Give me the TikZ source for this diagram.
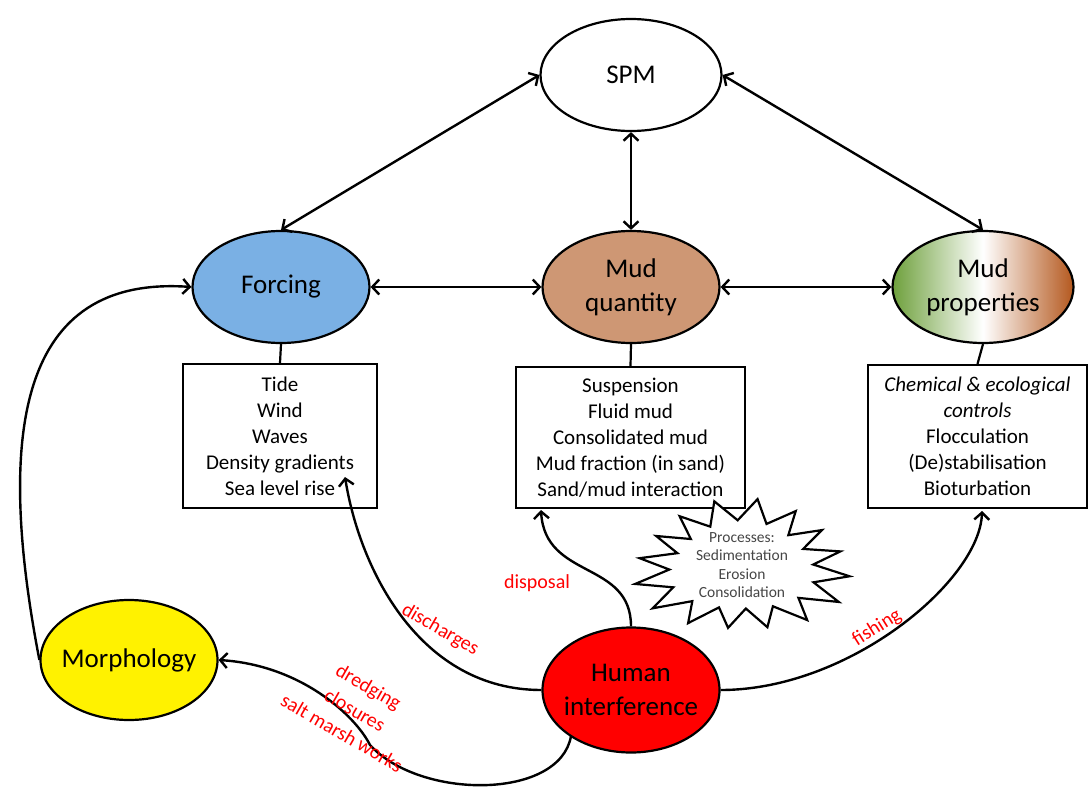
\documentclass[tikz,border=0pt]{standalone}
\usepackage{fontspec}
\setmainfont{Carlito}
\usetikzlibrary{shapes.geometric,arrows.meta}
\definecolor{forceblue}{RGB}{122,176,228}
\definecolor{mudbrown}{RGB}{206,151,116}
\definecolor{propgreen}{RGB}{110,160,60}
\definecolor{propbrown}{RGB}{180,88,30}
\definecolor{procgray}{RGB}{70,70,70}
\tikzset{
  blob/.style={ellipse,draw,line width=2.2pt,minimum width=177pt,minimum height=112pt,
    inner sep=0pt,align=center,font=\fontsize{27}{34}\selectfont},
  listbox/.style={rectangle,draw,line width=2.2pt,align=center,
    font=\fontsize{21}{26}\selectfont},
  link/.style={line width=2.4pt,{Straight Barb[length=7pt,width=15pt]}-{Straight Barb[length=7pt,width=15pt]}},
  feed/.style={line width=2.4pt,-{Straight Barb[length=7pt,width=15pt]}},
  stem/.style={line width=2.2pt},
  act/.style={text=red,font=\fontsize{20}{25}\selectfont},
}
\begin{document}
\begin{tikzpicture}[x=1pt,y=-1pt]
  \useasboundingbox (0,0) rectangle (1089,790);
  % ellipses
  \node[blob,minimum width=181pt,minimum height=112pt] (spm) at (631,75) {SPM};
  \node[blob,fill=forceblue] (forcing) at (281,287) {Forcing};
  \node[blob,fill=mudbrown] (mudq) at (631,287) {Mud\\quantity};
  \node[blob,left color=propgreen,right color=propbrown,middle color=white,minimum width=181pt] (mudp) at (983,287) {Mud\\properties};
  \node[blob,fill=yellow,minimum height=120pt,inner xsep=-12pt] (morph) at (129,660) {Morphology};
  \node[blob,fill=red,minimum height=125pt,inner xsep=-14pt] (human) at (631,690) {Human\\interference};
  % boxes
  \node[listbox,minimum width=194pt,minimum height=144pt] (fbox) at (280,436)
    {Tide\\Wind\\Waves\\Density gradients\\Sea level rise};
  \node[listbox,minimum width=229pt,minimum height=141pt] (qbox) at (630.5,437.5)
    {Suspension\\Fluid mud\\Consolidated mud\\Mud fraction (in sand)\\Sand/mud interaction};
  \node[listbox,minimum width=219pt,minimum height=143pt] (pbox) at (977.5,436.5)
    {\textit{Chemical \& ecological}\\\textit{controls}\\Flocculation\\(De)stabilisation\\Bioturbation};
  % processes burst
  \draw[line width=2.2pt,fill=white,line join=miter]
    plot[samples=33,domain=8:368,variable=\t]
      ({742+106*(0.84+0.16*cos(16*(\t-8)))*(1+0.06*sin(3*\t))*cos(\t)},
       {567+65*(0.84+0.16*cos(16*(\t-8)))*(1+0.06*sin(3*\t))*sin(\t)}) -- cycle;
  \node[align=center,text=procgray,font=\fontsize{15.5}{18.5}\selectfont] (proc) at (742,565)
    {Processes:\\Sedimentation\\Erosion\\Consolidation};
  % stems
  \draw[stem] (forcing.south) -- (fbox.north);
  \draw[stem] (mudq.south) -- (qbox.north);
  \draw[stem] (mudp.south) -- (pbox.north);
  % two-way links
  \draw[link] (spm.west) -- (forcing.north);
  \draw[link] (spm.south) -- (mudq.north);
  \draw[link] (spm.east) -- (mudp.north);
  \draw[link] (forcing.east) -- (mudq.west);
  \draw[link] (mudq.east) -- (mudp.west);
  % human interference
  \coordinate (fin) at (345,477);
  \coordinate (qin) at (541,510);
  \coordinate (pin) at (982,511);
  \coordinate (hlow) at (571,736);
  \draw[feed] (morph.west) .. controls (-5,430) and (20,275) .. (forcing.west);
  \draw[feed] (human.west) .. controls (420,690) and (360,570) .. (fin);
  \draw[feed] (human.north) .. controls (631,560) and (545,580) .. (qin);
  \draw[feed] (human.east) .. controls (850,690) and (980,580) .. (pin);
  \draw[feed] (hlow) .. controls (560,800) and (420,800) .. (370,745)
    .. controls (355,715) and (300,665) .. (morph.east);
  % labels
  \node[act,rotate=-30] (ldis) at (440,630) {discharges};
  \node[act] (lpos) at (537,583) {disposal};
  \node[act,rotate=32] (lfish) at (877,628) {fishing};
  \node[act,rotate=-30] (ldred) at (368,688) {dredging};
  \node[act,rotate=-30] (lclos) at (355,710) {closures};
  \node[act,rotate=-30] (lsalt) at (342,733) {salt marsh works};
\end{tikzpicture}
\end{document}
